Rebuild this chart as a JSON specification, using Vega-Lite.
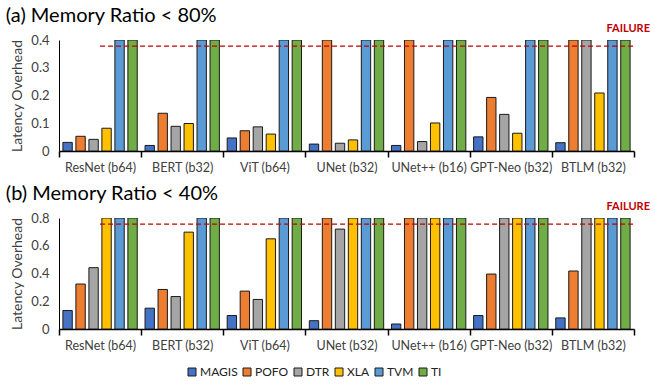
{
  "$schema": "https://vega.github.io/schema/vega-lite/v6.json",
  "padding": {"left": 5, "top": 6, "right": 5, "bottom": 5},
  "config": {
    "font": "Lato",
    "view": {"stroke": null},
    "concat": {"spacing": 10},
    "axis": {"labelFont": "Lato", "titleFont": "Lato", "labelColor": "#404040", "titleColor": "#404040", "domainColor": "#000000", "tickColor": "#000000"},
    "axisY": {"titleFontSize": 14, "titleFontWeight": "normal", "titlePadding": 6, "labelFontSize": 13, "format": ".1~f", "labelOverlap": false, "grid": false, "ticks": false, "labelPadding": 10, "domainWidth": 1},
    "title": {"font": "Lato", "fontSize": 20, "fontWeight": "normal", "color": "#000000", "anchor": "start"}
  },
  "datasets": {
    "ratios": [
      {"panel": "a", "model": "ResNet (b64)", "method": "MAGIS", "overhead": 0.031},
      {"panel": "a", "model": "ResNet (b64)", "method": "POFO", "overhead": 0.053},
      {"panel": "a", "model": "ResNet (b64)", "method": "DTR", "overhead": 0.042},
      {"panel": "a", "model": "ResNet (b64)", "method": "XLA", "overhead": 0.082},
      {"panel": "a", "model": "ResNet (b64)", "method": "TVM", "overhead": 0.4},
      {"panel": "a", "model": "ResNet (b64)", "method": "TI", "overhead": 0.4},
      {"panel": "a", "model": "BERT (b32)", "method": "MAGIS", "overhead": 0.020},
      {"panel": "a", "model": "BERT (b32)", "method": "POFO", "overhead": 0.136},
      {"panel": "a", "model": "BERT (b32)", "method": "DTR", "overhead": 0.089},
      {"panel": "a", "model": "BERT (b32)", "method": "XLA", "overhead": 0.099},
      {"panel": "a", "model": "BERT (b32)", "method": "TVM", "overhead": 0.4},
      {"panel": "a", "model": "BERT (b32)", "method": "TI", "overhead": 0.4},
      {"panel": "a", "model": "ViT (b64)", "method": "MAGIS", "overhead": 0.047},
      {"panel": "a", "model": "ViT (b64)", "method": "POFO", "overhead": 0.073},
      {"panel": "a", "model": "ViT (b64)", "method": "DTR", "overhead": 0.087},
      {"panel": "a", "model": "ViT (b64)", "method": "XLA", "overhead": 0.061},
      {"panel": "a", "model": "ViT (b64)", "method": "TVM", "overhead": 0.4},
      {"panel": "a", "model": "ViT (b64)", "method": "TI", "overhead": 0.4},
      {"panel": "a", "model": "UNet (b32)", "method": "MAGIS", "overhead": 0.025},
      {"panel": "a", "model": "UNet (b32)", "method": "POFO", "overhead": 0.4},
      {"panel": "a", "model": "UNet (b32)", "method": "DTR", "overhead": 0.028},
      {"panel": "a", "model": "UNet (b32)", "method": "XLA", "overhead": 0.040},
      {"panel": "a", "model": "UNet (b32)", "method": "TVM", "overhead": 0.4},
      {"panel": "a", "model": "UNet (b32)", "method": "TI", "overhead": 0.4},
      {"panel": "a", "model": "UNet++ (b16)", "method": "MAGIS", "overhead": 0.020},
      {"panel": "a", "model": "UNet++ (b16)", "method": "POFO", "overhead": 0.4},
      {"panel": "a", "model": "UNet++ (b16)", "method": "DTR", "overhead": 0.034},
      {"panel": "a", "model": "UNet++ (b16)", "method": "XLA", "overhead": 0.101},
      {"panel": "a", "model": "UNet++ (b16)", "method": "TVM", "overhead": 0.4},
      {"panel": "a", "model": "UNet++ (b16)", "method": "TI", "overhead": 0.4},
      {"panel": "a", "model": "GPT-Neo (b32)", "method": "MAGIS", "overhead": 0.051},
      {"panel": "a", "model": "GPT-Neo (b32)", "method": "POFO", "overhead": 0.193},
      {"panel": "a", "model": "GPT-Neo (b32)", "method": "DTR", "overhead": 0.132},
      {"panel": "a", "model": "GPT-Neo (b32)", "method": "XLA", "overhead": 0.064},
      {"panel": "a", "model": "GPT-Neo (b32)", "method": "TVM", "overhead": 0.4},
      {"panel": "a", "model": "GPT-Neo (b32)", "method": "TI", "overhead": 0.4},
      {"panel": "a", "model": "BTLM (b32)", "method": "MAGIS", "overhead": 0.030},
      {"panel": "a", "model": "BTLM (b32)", "method": "POFO", "overhead": 0.4},
      {"panel": "a", "model": "BTLM (b32)", "method": "DTR", "overhead": 0.4},
      {"panel": "a", "model": "BTLM (b32)", "method": "XLA", "overhead": 0.209},
      {"panel": "a", "model": "BTLM (b32)", "method": "TVM", "overhead": 0.4},
      {"panel": "a", "model": "BTLM (b32)", "method": "TI", "overhead": 0.4},
      {"panel": "b", "model": "ResNet (b64)", "method": "MAGIS", "overhead": 0.133},
      {"panel": "b", "model": "ResNet (b64)", "method": "POFO", "overhead": 0.324},
      {"panel": "b", "model": "ResNet (b64)", "method": "DTR", "overhead": 0.442},
      {"panel": "b", "model": "ResNet (b64)", "method": "XLA", "overhead": 0.8},
      {"panel": "b", "model": "ResNet (b64)", "method": "TVM", "overhead": 0.8},
      {"panel": "b", "model": "ResNet (b64)", "method": "TI", "overhead": 0.8},
      {"panel": "b", "model": "BERT (b32)", "method": "MAGIS", "overhead": 0.150},
      {"panel": "b", "model": "BERT (b32)", "method": "POFO", "overhead": 0.285},
      {"panel": "b", "model": "BERT (b32)", "method": "DTR", "overhead": 0.234},
      {"panel": "b", "model": "BERT (b32)", "method": "XLA", "overhead": 0.698},
      {"panel": "b", "model": "BERT (b32)", "method": "TVM", "overhead": 0.8},
      {"panel": "b", "model": "BERT (b32)", "method": "TI", "overhead": 0.8},
      {"panel": "b", "model": "ViT (b64)", "method": "MAGIS", "overhead": 0.097},
      {"panel": "b", "model": "ViT (b64)", "method": "POFO", "overhead": 0.273},
      {"panel": "b", "model": "ViT (b64)", "method": "DTR", "overhead": 0.213},
      {"panel": "b", "model": "ViT (b64)", "method": "XLA", "overhead": 0.650},
      {"panel": "b", "model": "ViT (b64)", "method": "TVM", "overhead": 0.8},
      {"panel": "b", "model": "ViT (b64)", "method": "TI", "overhead": 0.8},
      {"panel": "b", "model": "UNet (b32)", "method": "MAGIS", "overhead": 0.060},
      {"panel": "b", "model": "UNet (b32)", "method": "POFO", "overhead": 0.8},
      {"panel": "b", "model": "UNet (b32)", "method": "DTR", "overhead": 0.720},
      {"panel": "b", "model": "UNet (b32)", "method": "XLA", "overhead": 0.8},
      {"panel": "b", "model": "UNet (b32)", "method": "TVM", "overhead": 0.8},
      {"panel": "b", "model": "UNet (b32)", "method": "TI", "overhead": 0.8},
      {"panel": "b", "model": "UNet++ (b16)", "method": "MAGIS", "overhead": 0.036},
      {"panel": "b", "model": "UNet++ (b16)", "method": "POFO", "overhead": 0.8},
      {"panel": "b", "model": "UNet++ (b16)", "method": "DTR", "overhead": 0.8},
      {"panel": "b", "model": "UNet++ (b16)", "method": "XLA", "overhead": 0.8},
      {"panel": "b", "model": "UNet++ (b16)", "method": "TVM", "overhead": 0.8},
      {"panel": "b", "model": "UNet++ (b16)", "method": "TI", "overhead": 0.8},
      {"panel": "b", "model": "GPT-Neo (b32)", "method": "MAGIS", "overhead": 0.097},
      {"panel": "b", "model": "GPT-Neo (b32)", "method": "POFO", "overhead": 0.396},
      {"panel": "b", "model": "GPT-Neo (b32)", "method": "DTR", "overhead": 0.8},
      {"panel": "b", "model": "GPT-Neo (b32)", "method": "XLA", "overhead": 0.8},
      {"panel": "b", "model": "GPT-Neo (b32)", "method": "TVM", "overhead": 0.8},
      {"panel": "b", "model": "GPT-Neo (b32)", "method": "TI", "overhead": 0.8},
      {"panel": "b", "model": "BTLM (b32)", "method": "MAGIS", "overhead": 0.080},
      {"panel": "b", "model": "BTLM (b32)", "method": "POFO", "overhead": 0.418},
      {"panel": "b", "model": "BTLM (b32)", "method": "DTR", "overhead": 0.8},
      {"panel": "b", "model": "BTLM (b32)", "method": "XLA", "overhead": 0.8},
      {"panel": "b", "model": "BTLM (b32)", "method": "TVM", "overhead": 0.8},
      {"panel": "b", "model": "BTLM (b32)", "method": "TI", "overhead": 0.8}
    ]
  },
  "vconcat": [
    {
      "title": {"text": "(a) Memory Ratio < 80%", "dx": -5, "offset": -3},
      "width": 575,
      "height": 111,
      "layer": [
        {
          "data": {"name": "ratios"},
          "transform": [{"filter": "datum.panel === 'a'"}],
          "mark": {"type": "bar", "stroke": "#1a1a1a", "strokeWidth": 1, "clip": true},
          "encoding": {
            "x": {"field": "model", "type": "nominal", "sort": null,
                  "scale": {"paddingInner": 0, "paddingOuter": 0},
                  "axis": {"title": null, "labelAngle": 0, "labelFontSize": 12.5, "tickBand": "extent", "tickSize": 6, "labelPadding": 4, "domainWidth": 1.5, "tickWidth": 1.5}},
            "xOffset": {"field": "method", "type": "nominal", "sort": ["MAGIS", "POFO", "DTR", "XLA", "TVM", "TI"],
                        "scale": {"paddingInner": 0.28, "paddingOuter": 0.3}},
            "y": {"field": "overhead", "type": "quantitative",
                  "scale": {"domain": [0, 0.4], "nice": false},
                  "axis": {"title": "Latency Overhead", "values": [0, 0.1, 0.2, 0.3, 0.4]}},
            "color": {"field": "method", "type": "nominal", "sort": ["MAGIS", "POFO", "DTR", "XLA", "TVM", "TI"],
                      "scale": {"domain": ["MAGIS", "POFO", "DTR", "XLA", "TVM", "TI"], "range": ["#4472C4", "#ED7D31", "#A5A5A5", "#FFC000", "#5B9BD5", "#70AD47"]},
                      "legend": {"title": null, "orient": "none", "direction": "horizontal", "legendX": 127, "legendY": 326, "symbolType": "square", "symbolSize": 64, "symbolStrokeColor": "#1a1a1a", "symbolStrokeWidth": 1, "labelFontSize": 12, "labelColor": "#222222", "labelOffset": 2, "columnPadding": 3}}
          }
        },
        {
          "data": {"values": [{"threshold": 0.378, "label": "FAILURE"}]},
          "mark": {"type": "rule", "color": "#C00000", "strokeDash": [5, 3], "strokeWidth": 1.2},
          "encoding": {
            "y": {"field": "threshold", "type": "quantitative", "axis": {"title": "Latency Overhead", "values": [0, 0.1, 0.2, 0.3, 0.4]}},
            "x": {"datum": "ResNet (b64)", "bandPosition": 0.5},
            "x2": {"datum": "BTLM (b32)", "bandPosition": 1}
          }
        },
        {
          "data": {"values": [{"threshold": 0.378, "label": "FAILURE"}]},
          "mark": {"type": "text", "color": "#C00000", "fontWeight": "bold", "fontSize": 11, "align": "right", "baseline": "bottom", "dy": -12, "dx": 16, "x": 575, "clip": false},
          "encoding": {"text": {"field": "label"}, "y": {"field": "threshold", "type": "quantitative", "axis": {"title": "Latency Overhead", "values": [0, 0.1, 0.2, 0.3, 0.4]}}}
        }
      ]
    },
    {
      "title": {"text": "(b) Memory Ratio < 40%", "dx": -5, "offset": -3},
      "width": 575,
      "height": 111,
      "layer": [
        {
          "data": {"name": "ratios"},
          "transform": [{"filter": "datum.panel === 'b'"}],
          "mark": {"type": "bar", "stroke": "#1a1a1a", "strokeWidth": 1, "clip": true},
          "encoding": {
            "x": {"field": "model", "type": "nominal", "sort": null,
                  "scale": {"paddingInner": 0, "paddingOuter": 0},
                  "axis": {"title": null, "labelAngle": 0, "labelFontSize": 12.5, "tickBand": "extent", "tickSize": 6, "labelPadding": 4, "domainWidth": 1.5, "tickWidth": 1.5}},
            "xOffset": {"field": "method", "type": "nominal", "sort": ["MAGIS", "POFO", "DTR", "XLA", "TVM", "TI"],
                        "scale": {"paddingInner": 0.28, "paddingOuter": 0.3}},
            "y": {"field": "overhead", "type": "quantitative",
                  "scale": {"domain": [0, 0.8], "nice": false},
                  "axis": {"title": "Latency Overhead", "values": [0, 0.2, 0.4, 0.6, 0.8]}},
            "color": {"field": "method", "type": "nominal", "sort": ["MAGIS", "POFO", "DTR", "XLA", "TVM", "TI"],
                      "scale": {"domain": ["MAGIS", "POFO", "DTR", "XLA", "TVM", "TI"], "range": ["#4472C4", "#ED7D31", "#A5A5A5", "#FFC000", "#5B9BD5", "#70AD47"]}}
          }
        },
        {
          "data": {"values": [{"threshold": 0.756, "label": "FAILURE"}]},
          "mark": {"type": "rule", "color": "#C00000", "strokeDash": [5, 3], "strokeWidth": 1.2},
          "encoding": {
            "y": {"field": "threshold", "type": "quantitative", "axis": {"title": "Latency Overhead", "values": [0, 0.2, 0.4, 0.6, 0.8]}},
            "x": {"datum": "ResNet (b64)", "bandPosition": 0.5},
            "x2": {"datum": "BTLM (b32)", "bandPosition": 1}
          }
        },
        {
          "data": {"values": [{"threshold": 0.756, "label": "FAILURE"}]},
          "mark": {"type": "text", "color": "#C00000", "fontWeight": "bold", "fontSize": 11, "align": "right", "baseline": "bottom", "dy": -12, "dx": 16, "x": 575, "clip": false},
          "encoding": {"text": {"field": "label"}, "y": {"field": "threshold", "type": "quantitative", "axis": {"title": "Latency Overhead", "values": [0, 0.2, 0.4, 0.6, 0.8]}}}
        }
      ]
    }
  ]
}
